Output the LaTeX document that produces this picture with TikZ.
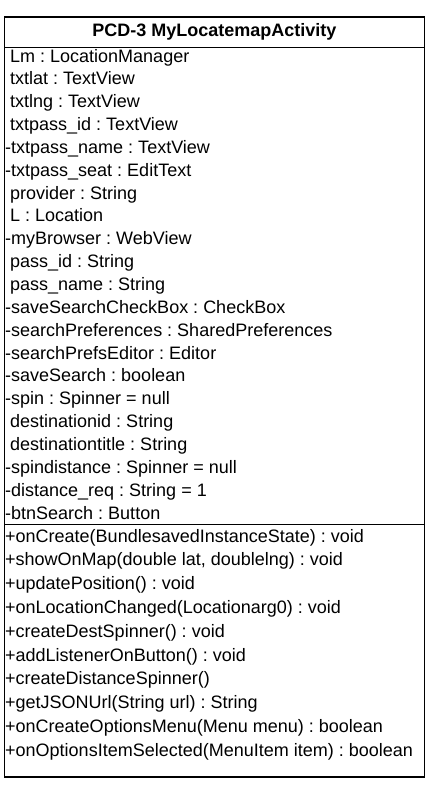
\documentclass[tikz,border=0pt]{standalone}
\usepackage{fontspec}
\setmainfont{Liberation Sans}
\newcommand{\lsp}{\hspace*{5pt}}
\frenchspacing
\begin{document}
\frenchspacing
\begin{tikzpicture}[x=1pt,y=-1pt,
  member/.style={anchor=base west, inner sep=0pt, font=\fontsize{18}{20}\selectfont},
  titletext/.style={inner sep=0pt, font=\fontsize{18}{20}\selectfont\bfseries},
  frame/.style={draw=black, line width=1.4pt}]
\useasboundingbox (0,0) rectangle (433,788);
\fill[white] (0,0) rectangle (433,788);
\coordinate (tl) at (4.5,17);
\coordinate (br) at (424.5,777);
\coordinate (s1l) at (4.5,47.5);
\coordinate (s1r) at (424.5,47.5);
\coordinate (s2l) at (4.5,524.5);
\coordinate (s2r) at (424.5,524.5);
\draw[frame] (tl) rectangle (br);
\draw[frame] (s1l) -- (s1r);
\draw[frame] (s2l) -- (s2r);
\node[titletext] (title) at (214.5,32) {PCD-3 MyLocatemapActivity};
\foreach \t [count=\i] in {
  \lsp Lm : LocationManager,
  \lsp txtlat : TextView,
  \lsp txtlng : TextView,
  \lsp txtpass\_id : TextView,
  -txtpass\_name : TextView,
  -txtpass\_seat : EditText,
  \lsp provider : String,
  \lsp L : Location,
  -myBrowser : WebView,
  \lsp pass\_id : String,
  \lsp pass\_name : String,
  -saveSearchCheckBox : CheckBox,
  -searchPreferences : SharedPreferences,
  -searchPrefsEditor : Editor,
  -saveSearch : boolean,
  -spin : Spinner = null,
  \lsp destinationid : String,
  \lsp destinationtitle : String,
  -spindistance : Spinner = null,
  -distance\_req : String = 1,
  -btnSearch : Button}
  {\node[member] (a\i) at (5,{62+(\i-1)*22.85}) {\t};}
\foreach \t [count=\i] in {
  +onCreate(BundlesavedInstanceState) : void,
  {+showOnMap(double lat, doublelng) : void},
  +updatePosition() : void,
  +onLocationChanged(Locationarg0) : void,
  +createDestSpinner() : void,
  +addListenerOnButton() : void,
  +createDistanceSpinner(),
  +getJSONUrl(String url) : String,
  +onCreateOptionsMenu(Menu menu) : boolean,
  +onOptionsItemSelected(MenuItem item) : boolean}
  {\node[member] (m\i) at (5,{542+(\i-1)*23.8}) {\t};}
\end{tikzpicture}
\end{document}
